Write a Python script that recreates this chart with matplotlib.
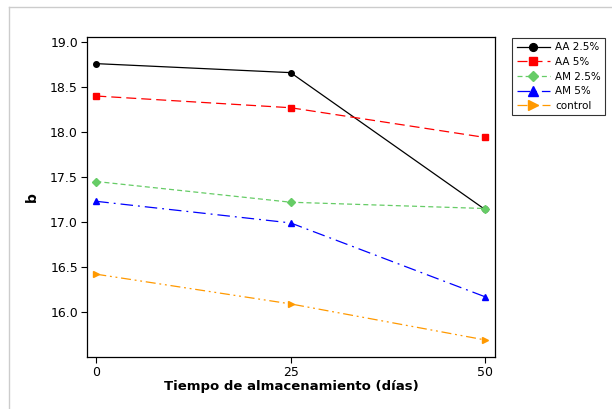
"""Recreate the b-value storage chart (Minitab style)."""

import matplotlib

matplotlib.use("Agg")
import matplotlib.pyplot as plt
from matplotlib.lines import Line2D

days = [0, 25, 50]
aa_25 = [18.76, 18.66, 17.14]
aa_5 = [18.40, 18.27, 17.94]
am_25 = [17.45, 17.22, 17.15]
am_5 = [17.23, 16.99, 16.17]
control = [16.42, 16.09, 15.69]

series_labels = ["AA 2.5%", "AA 5%", "AM 2.5%", "AM 5%", "control"]
y_ticks = [16.0, 16.5, 17.0, 17.5, 18.0, 18.5, 19.0]
x_ticks = [0, 25, 50]

plt.rcParams["font.family"] = ["DejaVu Sans"]

fig = plt.figure(figsize=(6.12, 4.09), dpi=100)
ax = fig.add_axes([87 / 612, 1 - 357 / 409, (495 - 87) / 612, (357 - 37) / 409])

styles = [
    dict(color="black", marker="o", markersize=4, linestyle="-"),
    dict(color="#ff0000", marker="s", markersize=4, linestyle=(0, (8, 4))),
    dict(color="#66cc66", marker="D", markersize=4, linestyle=(0, (4, 2.5))),
    dict(color="#0000ff", marker="^", markersize=5, linestyle=(0, (10, 4, 1.5, 4))),
    dict(color="#ff9900", marker=">", markersize=5, linestyle=(0, (8, 3, 1.5, 3, 1.5, 3))),
]

for values, label, style in zip([aa_25, aa_5, am_25, am_5, control], series_labels, styles):
    ax.plot(days, values, linewidth=0.9, label=label, **style)

ax.set_xlim(-1.2, 51.3)
ax.set_ylim(15.5, 19.056)
ax.set_xticks(x_ticks)
ax.set_yticks(y_ticks)
ax.set_yticklabels([f"{v:.1f}" for v in y_ticks])
ax.tick_params(labelsize=9, length=4, width=0.8, direction="out")
ax.tick_params(axis="y", pad=2.5)
ax.tick_params(axis="x", pad=2.5)
for spine in ax.spines.values():
    spine.set_linewidth(0.9)

ax.set_xlabel("Tiempo de almacenamiento (días)", fontsize=9.5, fontweight="bold", labelpad=1)
ax.set_ylabel("b", fontsize=10, fontweight="bold", labelpad=8)

leg = fig.legend(
    loc="upper right",
    bbox_to_anchor=(605 / 612, 1 - 38 / 409),
    fontsize=7.5,
    frameon=True,
    fancybox=False,
    edgecolor="black",
    handlelength=3.2,
    handletextpad=0.5,
    labelspacing=0.45,
    borderpad=0.4,
    borderaxespad=0.0,
    markerscale=1.4,
)
leg.get_frame().set_linewidth(0.8)

# thin grey frame around the figure region (top and left edges only)
fig.add_artist(Line2D([9 / 612, 1.0], [1 - 7 / 409, 1 - 7 / 409], color="#cccccc", linewidth=1.0))
fig.add_artist(Line2D([9 / 612, 9 / 612], [0.0, 1 - 7 / 409], color="#cccccc", linewidth=1.0))

fig.savefig("out.png", dpi=100)
